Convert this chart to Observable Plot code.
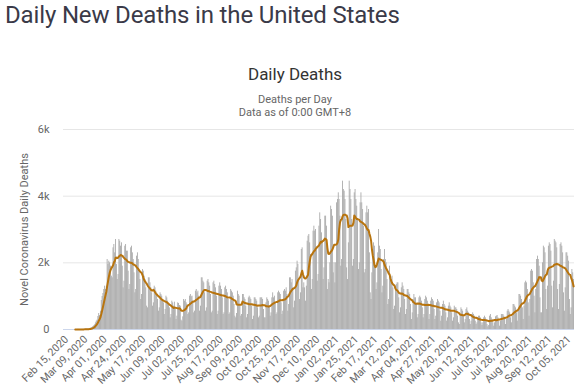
<!DOCTYPE html>
<html>
<head>
<meta charset="utf-8">
<script src="https://cdn.jsdelivr.net/npm/d3@7"></script>
<script src="https://cdn.jsdelivr.net/npm/@observablehq/plot@0.6"></script>
<style>
  body { margin: 0; background: #fff; font-family: Roboto, "Liberation Sans", sans-serif; }
  #wrap { position: relative; width: 580px; height: 388px; overflow: hidden; }
  #title { position: absolute; left: 5px; top: 1px; font-size: 24px; letter-spacing: -0.15px; color: #3a3a48; white-space: nowrap; }
  #ctitle { position: absolute; left: 195px; width: 200px; top: 64px; text-align: center; font-size: 17px; color: #333; }
  #sub { position: absolute; left: 195px; width: 200px; top: 93px; text-align: center; font-size: 11px; color: #666; line-height: 13px; }
  #chart { position: absolute; left: 0; top: 118px; }
</style>
</head>
<body>
<div id="wrap">
  <div id="title">Daily New Deaths in the United States</div>
  <div id="ctitle">Daily Deaths</div>
  <div id="sub">Deaths per Day<br>Data as of 0:00 GMT+8</div>
  <div id="chart"></div>
</div>
<script>
// First day of the series (a Saturday); one value per day, rows are weeks Sat..Fri
const startDate = "2020-02-15";
const deaths = [
  0,0,0,0,0,0,0,
  0,0,0,0,0,0,0,
  1,0,1,4,3,2,1,
  3,4,4,8,7,10,10,
  12,10,18,23,40,50,60,
  90,110,140,200,250,280,390,
  480,420,550,870,990,1080,1200,
  1300,1200,1300,2100,1950,2050,2000,
  1900,1600,1550,2450,2550,2300,2700,
  1950,1500,1650,2700,2650,2500,2600,
  1900,1250,1450,2500,2550,2350,2350,
  1750,1200,1350,2450,2500,2300,2100,
  1700,1100,1200,2200,2300,2100,1800,
  1500,900,1050,1800,1750,1600,1500,
  1250,700,650,1550,1550,1400,1250,
  1100,700,800,1300,1250,1150,1050,
  900,550,650,1100,1050,1000,900,
  800,450,600,1000,950,850,740,
  650,350,450,850,800,700,820,
  620,300,400,800,780,720,700,
  280,250,380,900,850,900,800,
  750,450,500,1000,1050,980,1000,
  850,500,550,1150,1200,1100,1150,
  1000,550,700,1550,1550,1450,1400,
  1100,550,650,1450,1500,1400,1300,
  1050,500,550,1400,1450,1350,1250,
  1000,450,550,1300,1400,1300,1200,
  950,450,500,1250,1300,1200,1100,
  900,450,500,1200,1150,1100,1000,
  750,400,350,480,1150,1050,1000,
  750,400,450,1050,1050,950,900,
  700,350,450,950,1000,950,900,
  700,300,400,950,950,900,850,
  650,350,400,950,950,950,900,
  600,350,350,800,950,900,850,
  700,400,500,950,1100,950,1000,
  800,450,500,1100,1150,1100,1050,
  800,450,550,1150,1200,1150,1250,
  1050,550,750,1550,1550,1400,1500,
  1250,650,850,1750,1850,2050,1950,
  1500,900,1100,2400,2450,1250,1400,
  1250,850,1300,2650,2800,2850,2600,
  2250,1200,1500,2950,3100,2950,3000,
  2400,1450,1650,3100,3500,3300,2900,
  2650,1500,1850,3400,3400,3100,1200,
  1500,1400,2000,3700,3600,3400,1700,
  2000,1400,2000,3800,3900,4100,3900,
  3400,1900,2100,4450,4200,4150,3900,
  3300,1850,1500,2600,4450,4200,3900,
  3300,1900,2100,4100,4200,3900,3700,
  3300,1800,2000,3800,4100,3800,3600,
  3100,1700,1800,3500,3700,3500,3600,
  2300,1100,900,1700,2400,2600,2500,
  1900,1200,1400,2300,3000,2500,2400,
  1800,1100,1300,2100,2400,2100,2000,
  1500,750,900,1900,1600,1500,1600,
  1250,600,700,1300,1350,1400,1400,
  950,500,650,1250,1400,1300,1200,
  900,450,600,1200,1200,1100,1050,
  750,300,500,900,1050,950,950,
  750,350,450,950,1000,950,850,
  650,350,450,900,1000,950,850,
  700,300,450,850,950,900,850,
  600,300,400,800,900,850,800,
  550,250,400,750,850,750,700,
  500,250,350,700,800,700,650,
  500,250,350,700,650,650,600,
  400,200,150,450,650,600,550,
  400,200,300,600,650,550,500,
  300,150,250,450,500,450,400,
  250,150,200,350,400,400,350,
  200,120,200,350,400,350,300,
  150,80,120,400,450,350,300,
  200,100,200,380,400,420,350,
  250,100,250,450,450,450,400,
  300,150,300,550,600,550,500,
  350,200,400,750,750,700,650,
  500,250,550,1050,1050,1000,900,
  650,300,700,1400,1450,1400,1200,
  800,400,900,1750,1800,1750,1400,
  1000,500,1200,2100,2200,2100,1900,
  950,500,500,2000,2500,2450,2300,
  1200,600,1300,2500,2600,2550,2350,
  1300,650,1450,2700,2650,2600,2450,
  1200,600,1350,2550,2600,2500,2300,
  1100,550,1250,2300,2300,2200,2050,
  900,450,650,1800,1700,1500
];
const xTickDates = [
  "2020-02-15","2020-03-09","2020-04-01","2020-04-24","2020-05-17","2020-06-09",
  "2020-07-02","2020-07-25","2020-08-17","2020-09-09","2020-10-02","2020-10-25",
  "2020-11-17","2020-12-10","2021-01-02","2021-01-25","2021-02-17","2021-03-12",
  "2021-04-04","2021-04-27","2021-05-20","2021-06-12","2021-07-05","2021-07-28",
  "2021-08-20","2021-09-12","2021-10-05"
];
const yTicks = [0, 2000, 4000, 6000];
const yTickLabels = ["0", "2k", "4k", "6k"];

const start = new Date(startDate + "T00:00:00Z");
const data = deaths.map((v, i) => ({date: d3.utcDay.offset(start, i), deaths: v}));
const firstDate = data.find(d => d.deaths > 0).date;
const xTicks = xTickDates.map(s => new Date(s + "T00:00:00Z"));

const chart = Plot.plot({
  width: 580,
  height: 270,
  marginLeft: 63,
  marginRight: 6,
  marginTop: 11,
  marginBottom: 59,
  style: {fontFamily: "Roboto, sans-serif", fontSize: "11px", color: "#666", background: "transparent"},
  x: {
    type: "utc",
    domain: [start, d3.utcDay.offset(start, deaths.length)]
  },
  y: {
    domain: [0, 6000]
  },
  marks: [
    Plot.gridY(yTicks, {stroke: "#e6e6e6", strokeOpacity: 1}),
    Plot.axisY({
      ticks: yTicks,
      tickFormat: d => yTickLabels[yTicks.indexOf(d)],
      tickSize: 0,
      tickPadding: 14,
      label: "Novel Coronavirus Daily Deaths",
      labelAnchor: "center",
      labelArrow: "none",
      labelOffset: 43
    }),
    Plot.axisX({
      ticks: xTicks,
      tickFormat: d3.utcFormat("%b %d, %Y"),
      tickRotate: -45,
      tickSize: 0,
      tickPadding: 6,
      dx: 3,
      dy: 2,
      fontSize: 10.6,
      label: null
    }),
    Plot.rectY(data, {x: "date", y: "deaths", interval: "day", fill: "#a6a6a6", inset: 0}),
    Plot.ruleY([0], {stroke: "#ccd6eb"}),
    Plot.lineY(data, Plot.windowY({k: 7, anchor: "end"}, {
      x: "date",
      y: d => d.date >= firstDate ? d.deaths : NaN,
      stroke: "#b8740e",
      strokeWidth: 2
    }))
  ]
});
document.getElementById("chart").appendChild(chart);
</script>
</body>
</html>
